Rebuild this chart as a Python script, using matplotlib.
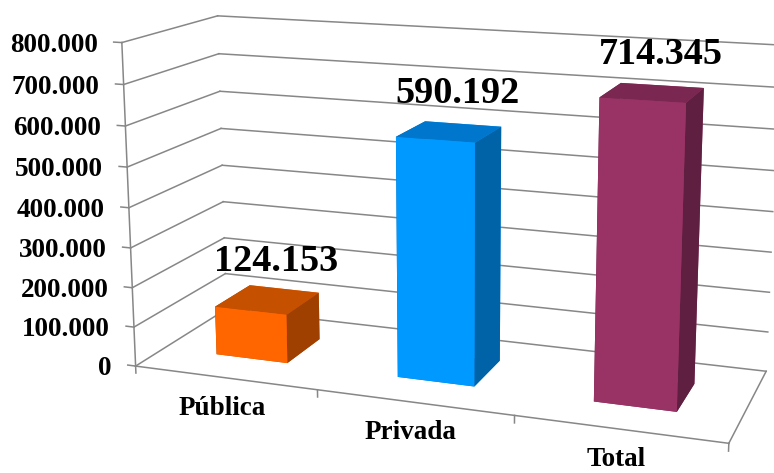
import numpy as np
import matplotlib
matplotlib.use("Agg")
import matplotlib.pyplot as plt

W, H = 774, 473
categories = ["Pública", "Privada", "Total"]
values = [124153, 590192, 714345]
value_ticks = [0, 100000, 200000, 300000, 400000, 500000, 600000, 700000, 800000]

front_colors = ["#FF6600", "#0099FF", "#993366"]
top_colors = ["#C55000", "#0077CC", "#7A2852"]
side_colors = ["#A04000", "#0063A8", "#5E1F40"]


def fmt(v):
    return f"{v:,}".replace(",", ".")


fig = plt.figure(figsize=(W / 100, H / 100), dpi=100)

# camera fitted to the Excel perspective view
S = 700
cx, cy = 445.95, 156.67
ax = fig.add_axes([(cx - S / 2) / W, (H - cy - S / 2) / H, S / W, S / H], projection="3d")
ax.set_xlim(-0.0588, 2.9412)
ax.set_ylim(0.2544, 1.2544)
ax.set_zlim(125190, 925190)
ax.view_init(12.3466, -70.3333)
ax.set_proj_type("persp", focal_length=0.4471)
ax.set_box_aspect((1.8249, 0.6032, 1), zoom=0.9837)
ax.set_axis_off()
ax.computed_zorder = False
M = ax.get_proj()


def screen(x, y, z):
    v = M @ np.array([x, y, z, 1.0])
    return v[0] / v[3], v[1] / v[3]


ncat = len(categories)
top = value_ticks[-1]
gc = "#878787"
lw = 1.1
font = dict(fontweight="bold", family="Liberation Serif", annotation_clip=False,
            textcoords="offset pixels", zorder=6)

# walls and floor
for v in value_ticks:
    ax.plot([0, 0], [0, 1], [v, v], color=gc, lw=lw, clip_on=False, zorder=1)
    ax.plot([0, ncat], [1, 1], [v, v], color=gc, lw=lw, clip_on=False, zorder=1)
    ax.plot([-0.045, 0], [0, 0], [v, v], color=gc, lw=lw, clip_on=False, zorder=1)
    ax.annotate(fmt(v), screen(0, 0, v), xytext=(-24, -9), ha="right", va="baseline",
                fontsize=19.5, **font)
ax.plot([0, 0], [0, 0], [0, top], color=gc, lw=lw, clip_on=False, zorder=1)
ax.plot([0, ncat], [0, 0], [0, 0], color=gc, lw=lw, clip_on=False, zorder=1)
ax.plot([ncat, ncat], [0, 1], [0, 0], color=gc, lw=lw, clip_on=False, zorder=1)
for i in range(ncat + 1):
    ax.plot([i, i], [0, 0], [0, -18000], color=gc, lw=lw, clip_on=False, zorder=1)

# bars
for i, v in enumerate(values):
    fc = [top_colors[i], top_colors[i], front_colors[i], front_colors[i], side_colors[i], side_colors[i]]
    ax.bar3d(i + 0.3, 0.3, 0, 0.4, 0.4, v, color=fc, shade=False, lw=0,
             clip_on=False, zorder=2 + i)
    ax.annotate(fmt(v), screen(i + 0.5, 0.5, v), xytext=(8, 29), ha="center", va="baseline",
                fontsize=27.5, **font)
    ax.annotate(categories[i], screen(i + 0.5, 0, 0), xytext=(-3, -37), ha="center",
                va="baseline", fontsize=19.5, **font)

fig.savefig("out.png", dpi=100)
